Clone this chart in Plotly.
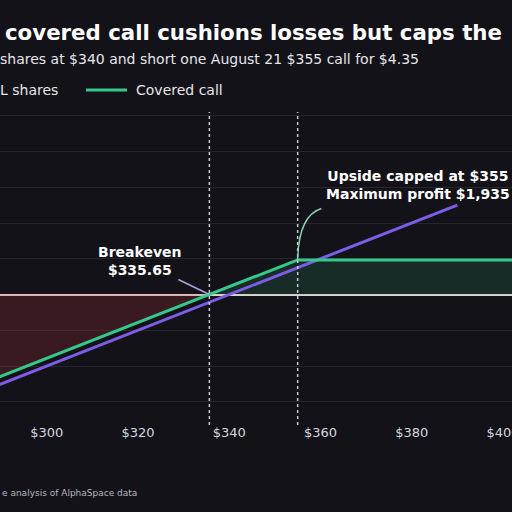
import plotly.graph_objects as go

# ---- data ----
stock_price = [280.0, 390.0]
stock_pnl = [-6000, 5000]

cc_price = [280.0, 335.65, 355.0, 420.0]
cc_pnl = [-5565, 0, 1935, 1935]

breakeven = 335.65
strike = 355.0
max_profit = 1935

x_ticks = [300, 320, 340, 360, 380, 400]
x_ticktext = ["$300", "$320", "$340", "$360", "$380", "$400"]
y_grid = [-6000, -4000, -2000, 0, 2000, 4000, 6000, 8000, 10000]

title_text = "covered call cushions losses but caps the"
subtitle_text = "shares at $340 and short one August 21 $355 call for $4.35"
legend_names = ["AAPL shares", "Covered call"]
source_text = "e analysis of AlphaSpace data"
breakeven_label = "Breakeven<br>$335.65"
cap_label = "Upside capped at $355<br>Maximum profit $1,935"

# ---- styles ----
BG = "#131218"
GRID = "#27262d"
GREEN = "#35c88c"
PURPLE = "#7d5de6"
RED_FILL = "rgba(205,55,65,0.21)"
GREEN_FILL = "rgba(46,190,130,0.15)"
ZERO = "#ddd0d2"
DOT = "#c9c9d2"
FONT = "DejaVu Sans"

W, H = 512, 512
T, B = 112, 87
plot_h = H - T - B


def px_x(p):
    return p / W


def px_y(p):
    return (H - B - p) / plot_h


fig = go.Figure()

neg_x = [x for x, y in zip(cc_price, cc_pnl) if y <= 0]
neg_y = [y for y in cc_pnl if y <= 0]
pos_x = [x for x, y in zip(cc_price, cc_pnl) if y >= 0]
pos_y = [y for y in cc_pnl if y >= 0]

fig.add_trace(go.Scatter(x=neg_x, y=neg_y, mode="lines", fill="tozeroy",
                         fillcolor=RED_FILL, line=dict(width=0), hoverinfo="skip"))
fig.add_trace(go.Scatter(x=pos_x, y=pos_y, mode="lines", fill="tozeroy",
                         fillcolor=GREEN_FILL, line=dict(width=0), hoverinfo="skip"))
fig.add_trace(go.Scatter(x=stock_price, y=stock_pnl, mode="lines", name=legend_names[0],
                         line=dict(color=PURPLE, width=3)))
fig.add_trace(go.Scatter(x=cc_price, y=cc_pnl, mode="lines", name=legend_names[1],
                         line=dict(color=GREEN, width=3)))

shapes = []
for xv in [breakeven, strike]:
    shapes.append(dict(type="line", xref="x", yref="paper", x0=xv, x1=xv, y0=0, y1=1,
                       line=dict(color=DOT, width=1.5, dash="dot"), layer="above"))
# curved arrow from the cap point to the label
shapes.append(dict(type="path", xref="x", yref="y",
                   path=f"M {strike},{max_profit} Q {strike + 0.2},4420 {strike + 5.2},4816",
                   line=dict(color="#86d6b2", width=1.5)))
# manual legend swatch
shapes.append(dict(type="line", xref="paper", yref="paper", x0=px_x(86), x1=px_x(127),
                   y0=px_y(90), y1=px_y(90), line=dict(color=GREEN, width=3)))

annotations = [
    dict(text=f"<b>{title_text}</b>", xref="paper", yref="paper", x=px_x(3), y=px_y(33),
         xanchor="left", yanchor="middle", showarrow=False,
         font=dict(family=FONT, size=21.3, color="#ffffff")),
    dict(text=subtitle_text, xref="paper", yref="paper", x=px_x(-2), y=px_y(59),
         xanchor="left", yanchor="middle", showarrow=False,
         font=dict(family=FONT, size=14, color="#e6e6ea")),
    dict(text=legend_names[0], xref="paper", yref="paper", x=px_x(60), y=px_y(90),
         xanchor="right", yanchor="middle", showarrow=False,
         font=dict(family=FONT, size=14, color="#e6e6ea")),
    dict(text=legend_names[1], xref="paper", yref="paper", x=px_x(134), y=px_y(90),
         xanchor="left", yanchor="middle", showarrow=False,
         font=dict(family=FONT, size=14, color="#e6e6ea")),
    dict(text=source_text, xref="paper", yref="paper", x=px_x(0), y=px_y(493),
         xanchor="left", yanchor="middle", showarrow=False,
         font=dict(family=FONT, size=9, color="#b8b8c0")),
    dict(text=f"<b>{breakeven_label}</b>", x=breakeven, y=0, xref="x", yref="y",
         ax=320.45, ay=1874, axref="x", ayref="y", showarrow=True, arrowhead=0,
         arrowwidth=1.5, arrowcolor="#aea4d6",
         font=dict(family=FONT, size=14, color="#ffffff")),
    dict(text=f"<b>{cap_label}</b>", x=381.4, y=6150, xref="x", yref="y",
         showarrow=False, xanchor="center", yanchor="middle",
         font=dict(family=FONT, size=14, color="#ffffff")),
]

fig.update_layout(
    width=W, height=H,
    margin=dict(l=0, r=0, t=T, b=B, pad=0, autoexpand=False),
    paper_bgcolor=BG, plot_bgcolor=BG,
    showlegend=False,
    font=dict(family=FONT, color="#e6e6ea"),
    shapes=shapes,
    annotations=annotations,
    xaxis=dict(range=[289.76, 401.98], tickvals=x_ticks, ticktext=x_ticktext,
               showgrid=False, zeroline=False, showline=False, ticks="",
               automargin=False, ticklabeloverflow="allow", ticklabelstandoff=-2,
               tickfont=dict(family=FONT, size=13, color="#d6d6de")),
    yaxis=dict(range=[-7300, 10209], tickvals=y_grid, showticklabels=False,
               showgrid=True, gridcolor=GRID, gridwidth=1, automargin=False,
               zeroline=True, zerolinecolor=ZERO, zerolinewidth=2, ticks=""),
)

fig.write_html("out.html", config={"displayModeBar": False},
               post_script="document.body.style.margin='0';document.body.style.background='#131218';")
